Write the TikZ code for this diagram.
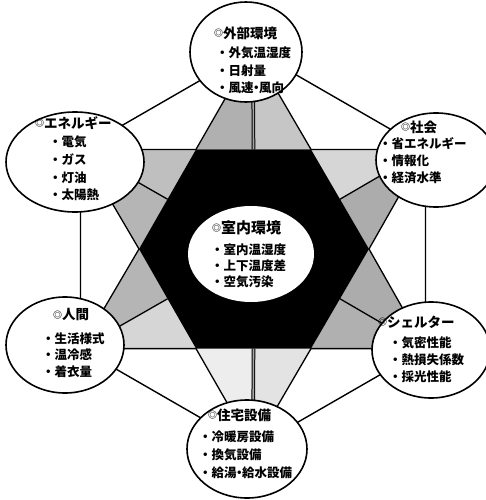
\documentclass[tikz,border=0pt]{standalone}
\usepackage{fontspec}
\usetikzlibrary{calc}
\newfontfamily\jp{Noto Sans CJK JP}
\newcommand{\mk}{\raisebox{1.8pt}{\fontsize{9}{9}\selectfont ◎}}
\newcommand{\md}{\kern-3.5pt・\kern-3.5pt}
\begin{document}
\begin{tikzpicture}[x=1pt,y=-1pt,
  ttl/.style={anchor=west,inner sep=0pt,font=\jp\bfseries\fontsize{13.5}{14}\selectfont},
  itm/.style={anchor=west,inner sep=0pt,font=\jp\bfseries\fontsize{12.5}{13}\selectfont},
  bub/.style={draw=black,line width=1.6pt,fill=white},
  star/.style={draw=black,line width=1.3pt},
  edge/.style={draw=black,line width=1.4pt}]
\useasboundingbox (0,0) rectangle (486,500);
\fill[white] (0,0) rectangle (486,500);
% geometry
\coordinate (C) at (253,249);
\coordinate (V0) at (369,249);
\coordinate (V60) at (311,149.4);
\coordinate (V120) at (196,149.4);
\coordinate (V180) at (139,249);
\coordinate (V240) at (196,348.6);
\coordinate (V300) at (311,348.6);
\coordinate (S90) at (253,50);
\coordinate (S30) at (425.5,149.4);
\coordinate (S150) at (80.5,149.4);
\coordinate (S210) at (80.5,348.6);
\coordinate (S330) at (425.5,348.6);
\coordinate (S270) at (253,448);
\coordinate (M90) at ($(V120)!0.5!(V60)$);
\coordinate (M150) at ($(V120)!0.5!(V180)$);
\coordinate (M210) at ($(V180)!0.5!(V240)$);
\coordinate (M270) at ($(V240)!0.5!(V300)$);
\coordinate (M330) at ($(V300)!0.5!(V0)$);
\coordinate (M30) at ($(V0)!0.5!(V60)$);
% outer hexagon
\draw[edge] (S90) -- (S150) -- (S210) -- (S270) -- (S330) -- (S30) -- cycle;
% star points
\fill[gray!62] (S90) -- (V120) -- (M90) -- cycle;
\fill[gray!45] (S90) -- (M90) -- (V60) -- cycle;
\fill[gray!50] (S150) -- (V120) -- (M150) -- cycle;
\fill[gray!58] (S150) -- (M150) -- (V180) -- cycle;
\fill[gray!32] (S30) -- (V60) -- (M30) -- cycle;
\fill[gray!65] (S30) -- (M30) -- (V0) -- cycle;
\fill[gray!58] (S210) -- (V180) -- (M210) -- cycle;
\fill[gray!32] (S210) -- (M210) -- (V240) -- cycle;
\fill[gray!65] (S330) -- (V0) -- (M330) -- cycle;
\fill[gray!62] (S330) -- (M330) -- (V300) -- cycle;
\fill[gray!14] (S270) -- (V240) -- (M270) -- cycle;
\fill[gray!22] (S270) -- (M270) -- (V300) -- cycle;
\draw[star] (S90) -- (V120) -- (S150) -- (V180) -- (S210) -- (V240) -- (S270) -- (V300) -- (S330) -- (V0) -- (S30) -- (V60) -- cycle;
% split lines
\draw[star] (S150) -- (M150) (S30) -- (M30) (S210) -- (M210) (S330) -- (M330);
\draw[black,line width=3.6pt] (S90) -- (M90) (S270) -- (M270);
\draw[gray!70,line width=1.6pt] (S90) -- (M90) (S270) -- (M270);
% dark hexagon
\fill[black] (V0) -- (V60) -- (V120) -- (V180) -- (V240) -- (V300) -- cycle;
\fill[white] (251,254) ellipse [x radius=63,y radius=48];
% bubbles
\path[bub] (246,52) ellipse [x radius=56,y radius=50];
\path[bub] (75,162) ellipse [x radius=69,y radius=50];
\path[bub] (436,160) ellipse [x radius=60,y radius=47];
\path[bub] (65,345) ellipse [x radius=59,y radius=48];
\path[bub] (431,350) ellipse [x radius=59,y radius=48];
\path[bub] (247,449) ellipse [x radius=60,y radius=49];
% texts: top
\node[ttl] (t1) at (214,33) {\mk 外部環境};
\node[itm] (t1a) at (216,53) {・外気温湿度};
\node[itm] (t1b) at (216,70.5) {・日射量};
\node[itm] (t1c) at (216,88) {・風速\md 風向};
% upper left
\node[ttl] (t2) at (35,123) {\mk エネルギー};
\node[itm] (t2a) at (49,142) {・電気};
\node[itm] (t2b) at (49,160) {・ガス};
\node[itm] (t2c) at (49,178) {・灯油};
\node[itm] (t2d) at (49,195) {・太陽熱};
% upper right
\node[ttl] (t3) at (401,127) {\mk 社会};
\node[itm] (t3a) at (379,144) {・省エネルギー};
\node[itm] (t3b) at (379,161) {・情報化};
\node[itm] (t3c) at (379,178) {・経済水準};
% center
\node[ttl,font=\jp\bfseries\fontsize{15}{16}\selectfont] (t4) at (212,228) {\mk 室内環境};
\node[itm] (t4a) at (211,250) {・室内温湿度};
\node[itm] (t4b) at (211,266) {・上下温度差};
\node[itm] (t4c) at (211,282) {・空気汚染};
% lower left
\node[ttl] (t5) at (53,315) {\mk 人間};
\node[itm] (t5a) at (42,339) {・生活様式};
\node[itm] (t5b) at (42,355) {・温冷感};
\node[itm] (t5c) at (42,372) {・着衣量};
% lower right
\node[ttl] (t6) at (378,322) {\mk シェルター};
\node[itm] (t6a) at (389,343) {・気密性能};
\node[itm] (t6b) at (389,360) {・熱損失係数};
\node[itm] (t6c) at (389,377) {・採光性能};
% bottom
\node[ttl] (t7) at (208,415) {\mk 住宅設備};
\node[itm] (t7a) at (199,437) {・冷暖房設備};
\node[itm] (t7b) at (199,455) {・換気設備};
\node[itm] (t7c) at (199,473) {・給湯\md 給水設備};
\end{tikzpicture}
\end{document}
